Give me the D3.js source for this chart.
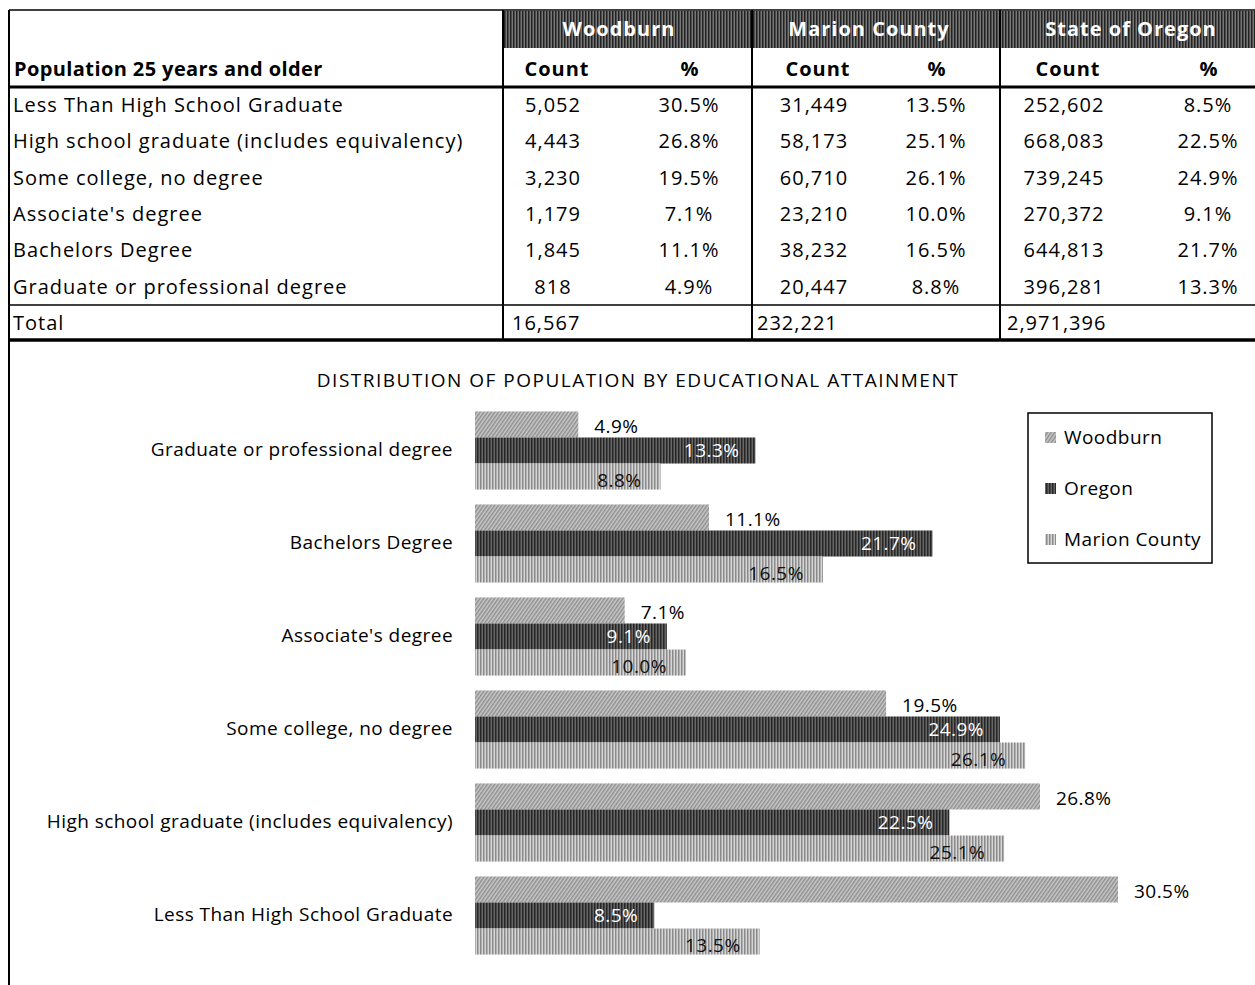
<!DOCTYPE html>
<html lang="en">
<head>
<meta charset="utf-8"/>
<title>Educational attainment</title>
<script src="https://d3js.org/d3.v7.min.js"></script>
<style>
  body { margin: 0; background: #fff; }
  svg { font-family: "Open Sans", "Noto Sans", sans-serif; }
  .line { stroke: #000; }
  .tb { font-size: 20px; letter-spacing: 1px; }
  .ch { font-size: 19px; letter-spacing: 0.45px; }
</style>
</head>
<body>
<svg id="chart" width="1255" height="985"></svg>
<script>
// table data
var rowLabels = ["Less Than High School Graduate", "High school graduate (includes equivalency)",
  "Some college, no degree", "Associate's degree", "Bachelors Degree", "Graduate or professional degree"];
var places = ["Woodburn", "Marion County", "State of Oregon"];
var woodburnCount = [5052, 4443, 3230, 1179, 1845, 818];
var woodburnPct = [30.5, 26.8, 19.5, 7.1, 11.1, 4.9];
var marionCount = [31449, 58173, 60710, 23210, 38232, 20447];
var marionPct = [13.5, 25.1, 26.1, 10.0, 16.5, 8.8];
var oregonCount = [252602, 668083, 739245, 270372, 644813, 396281];
var oregonPct = [8.5, 22.5, 24.9, 9.1, 21.7, 13.3];
var totals = [16567, 232221, 2971396];

// chart data (top to bottom)
var chartCats = rowLabels.slice().reverse();
var seriesNames = ["Woodburn", "Oregon", "Marion County"];

var svg = d3.select("#chart");
var defs = svg.append("defs");

// patterns
function stripes(id, bg, fg, w, period, angle) {
  var p = defs.append("pattern").attr("id", id)
    .attr("patternUnits", "userSpaceOnUse")
    .attr("width", period).attr("height", period)
    .attr("patternTransform", "rotate(" + angle + ")");
  p.append("rect").attr("width", period).attr("height", period).attr("fill", bg);
  p.append("rect").attr("width", w).attr("height", period).attr("fill", fg);
}
stripes("pWood", "#cacaca", "#8e8e8e", 1.5, 3, 35);
stripes("pOre", "#666", "#262626", 1.5, 3, 0);
stripes("pMar", "#d6d6d6", "#8a8a8a", 1.5, 3, 0);
stripes("pHead", "#777", "#222", 1.5, 3, 0);

var colors = { "Woodburn": "url(#pWood)", "Oregon": "url(#pOre)", "Marion County": "url(#pMar)" };

// ---- TABLE ----
var colEdges = [9, 503, 752, 1000, 1255];
var headX = [619, 869, 1131];
var countX = [553, 814, 1064];
var pctX = [689, 936, 1208];
var totalX = [512, 757, 1007];
var rowY = d3.scaleLinear().domain([0, 6]).range([105, 323]);

var tbl = svg.append("g");

// group header band
tbl.selectAll("rect.head").data(places).enter().append("rect")
  .attr("x", function(d, i) { return colEdges[i + 1]; })
  .attr("y", 11)
  .attr("width", function(d, i) { return colEdges[i + 2] - colEdges[i + 1]; })
  .attr("height", 37)
  .attr("fill", "url(#pHead)");

tbl.selectAll("text.head").data(places).enter().append("text")
  .attr("class", "tb")
  .attr("x", function(d, i) { return headX[i]; })
  .attr("y", 36)
  .attr("text-anchor", "middle")
  .attr("font-weight", "bold")
  .attr("fill", "#fff")
  .text(function(d) { return d; });

tbl.append("text").attr("class", "tb").attr("x", 14).attr("y", 76)
  .attr("font-weight", "bold").style("letter-spacing", "0.4px")
  .text("Population 25 years and older");

places.forEach(function(p, i) {
  tbl.append("text").attr("class", "tb").attr("x", countX[i] + 4).attr("y", 76).attr("text-anchor", "middle")
    .attr("font-weight", "bold").text("Count");
  tbl.append("text").attr("class", "tb").attr("x", pctX[i] + 1).attr("y", 76).attr("text-anchor", "middle")
    .attr("font-weight", "bold").text("%");
});

var fmtCount = d3.format(",");
var fmtPct = function(v) { return d3.format(".1f")(v) + "%"; };
var counts = [woodburnCount, marionCount, oregonCount];
var pcts = [woodburnPct, marionPct, oregonPct];

rowLabels.forEach(function(lab, r) {
  var y = rowY(r) + 7;
  tbl.append("text").attr("class", "tb").attr("x", 13).attr("y", y).text(lab);
  for (var i = 0; i < 3; i++) {
    tbl.append("text").attr("class", "tb").attr("x", countX[i]).attr("y", y).attr("text-anchor", "middle")
      .text(fmtCount(counts[i][r]));
    tbl.append("text").attr("class", "tb").attr("x", pctX[i]).attr("y", y).attr("text-anchor", "middle")
      .text(fmtPct(pcts[i][r]));
  }
});
tbl.append("text").attr("class", "tb").attr("x", 13).attr("y", rowY(6) + 7).text("Total");
totals.forEach(function(t, i) {
  tbl.append("text").attr("class", "tb").attr("x", totalX[i]).attr("y", rowY(6) + 7).text(fmtCount(t));
});

// table rules
function hline(y, w) {
  tbl.append("line").attr("class", "line").attr("x1", 9).attr("x2", 1255)
    .attr("y1", y).attr("y2", y).attr("stroke-width", w);
}
hline(10, 1.5);
hline(87, 3);
hline(305, 1.5);
hline(340, 3.5);
colEdges.slice(1, 4).forEach(function(x) {
  tbl.append("line").attr("class", "line").attr("x1", x).attr("x2", x)
    .attr("y1", 10).attr("y2", 340).attr("stroke-width", 2);
});
svg.append("line").attr("class", "line").attr("x1", 9).attr("x2", 9)
  .attr("y1", 10).attr("y2", 985).attr("stroke-width", 2);

// ---- BAR CHART ----
svg.append("text").attr("x", 638).attr("y", 387).attr("text-anchor", "middle")
  .attr("font-size", 19).attr("letter-spacing", "1.5px")
  .text("DISTRIBUTION OF POPULATION BY EDUCATIONAL  ATTAINMENT");

var x0 = 475;
var x = d3.scaleLinear().domain([0, 30.5]).range([x0, 1118]);
var y = d3.scaleBand().domain(chartCats).range([404, 962]).paddingInner(0.16).paddingOuter(0.08);
var ySub = d3.scaleBand().domain(seriesNames).range([0, y.bandwidth()]);

var chartVals = {
  "Woodburn": woodburnPct.slice().reverse(),
  "Oregon": oregonPct.slice().reverse(),
  "Marion County": marionPct.slice().reverse()
};

var cats = svg.append("g").selectAll("g").data(chartCats).enter().append("g")
  .attr("transform", function(d) { return "translate(0," + y(d) + ")"; });

cats.append("text").attr("class", "ch")
  .attr("x", 453).attr("y", y.bandwidth() / 2 + 6)
  .attr("text-anchor", "end")
  .text(function(d) { return d; });

seriesNames.forEach(function(s) {
  cats.append("rect")
    .attr("x", x0)
    .attr("y", ySub(s))
    .attr("width", function(d, i) { return x(chartVals[s][i]) - x0; })
    .attr("height", ySub.bandwidth())
    .attr("fill", colors[s]);

  var lbl = cats.append("text").attr("class", "ch")
    .text(function(d, i) { return fmtPct(chartVals[s][i]); });
  if (s === "Woodburn") {
    lbl.attr("x", function(d, i) { return x(chartVals[s][i]) + 16; })
      .attr("y", ySub(s) + ySub.bandwidth() / 2 + 9);
  } else if (s === "Oregon") {
    lbl.attr("x", function(d, i) { return x(chartVals[s][i]) - 16; })
      .attr("y", ySub(s) + ySub.bandwidth() / 2 + 7)
      .attr("text-anchor", "end").attr("fill", "#fff");
  } else {
    lbl.attr("x", function(d, i) { return x(chartVals[s][i]) - 19; })
      .attr("y", ySub(s) + ySub.bandwidth() / 2 + 10)
      .attr("text-anchor", "end").attr("fill", "#111");
  }
});

// legend
var lg = svg.append("g").attr("transform", "translate(1028,413)");
lg.append("rect").attr("width", 184).attr("height", 150)
  .attr("fill", "#fff").attr("stroke", "#000").attr("stroke-width", 1.5);
var li = lg.selectAll("g").data(seriesNames).enter().append("g")
  .attr("transform", function(d, i) { return "translate(0," + (25 + i * 51) + ")"; });
li.append("rect").attr("x", 17).attr("y", -6).attr("width", 11).attr("height", 11)
  .attr("fill", function(d) { return colors[d]; });
li.append("text").attr("class", "ch").attr("x", 36).attr("y", 6).text(function(d) { return d; });
</script>
</body>
</html>
